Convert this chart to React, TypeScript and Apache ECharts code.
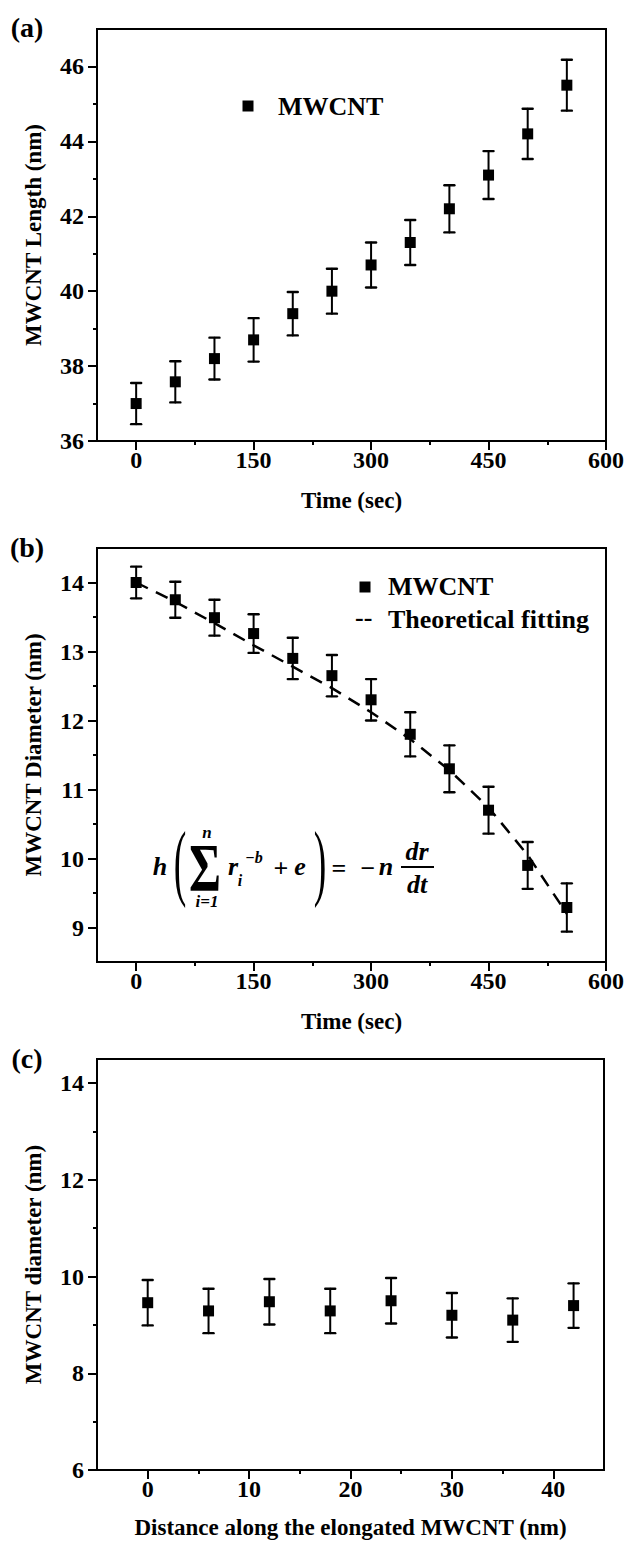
import React, { useEffect, useRef } from "react";
import * as echarts from "echarts";

// ---------- data ----------
const timeSec = [0, 50, 100, 150, 200, 250, 300, 350, 400, 450, 500, 550];
const lengthNm = [37.0, 37.58, 38.2, 38.7, 39.4, 40.0, 40.7, 41.3, 42.2, 43.1, 44.2, 45.5];
const lengthErr = [0.55, 0.55, 0.56, 0.58, 0.58, 0.6, 0.6, 0.6, 0.63, 0.64, 0.67, 0.68];

const diameterNm = [14.0, 13.75, 13.49, 13.26, 12.9, 12.65, 12.3, 11.8, 11.3, 10.7, 9.9, 9.29];
const diameterErr = [0.23, 0.26, 0.26, 0.28, 0.3, 0.3, 0.3, 0.32, 0.34, 0.34, 0.34, 0.35];
const fitNm = [14.0, 13.72, 13.41, 13.09, 12.78, 12.47, 12.12, 11.73, 11.28, 10.74, 10.05, 9.2];

const distanceNm = [0, 6, 12, 18, 24, 30, 36, 42];
const diameterAlong = [9.46, 9.29, 9.48, 9.29, 9.5, 9.2, 9.1, 9.4];
const diameterAlongErr = [0.47, 0.46, 0.47, 0.46, 0.47, 0.46, 0.45, 0.46];

const timeTicks = [0, 150, 300, 450, 600];
const timeMinor = [75, 225, 375, 525];
const lengthTicks = [36, 38, 40, 42, 44, 46];
const lengthMinor = [37, 39, 41, 43, 45];
const diamTicks = [9, 10, 11, 12, 13, 14];
const diamMinor = [9.5, 10.5, 11.5, 12.5, 13.5];
const distTicks = [0, 10, 20, 30, 40];
const distMinor = [5, 15, 25, 35];
const alongTicks = [6, 8, 10, 12, 14];
const alongMinor = [7, 9, 11, 13];

// ---------- styles ----------
const SERIF = '"Liberation Serif", "Times New Roman", serif';
const BLACK = "#000";

const grids = [
  { left: 97, top: 29, width: 509, height: 412 },
  { left: 97, top: 548, width: 509, height: 414 },
  { left: 97, top: 1059, width: 507, height: 411 },
];

function majorAxis(dim: "x" | "y", gridIndex: number, min: number, max: number, ticks: number[], name: string, nameGap: number) {
  return {
    type: "value",
    gridIndex,
    min,
    max,
    position: dim === "x" ? "bottom" : "left",
    axisLine: { show: true, onZero: false, lineStyle: { color: BLACK, width: 2 } },
    axisTick: { show: true, inside: false, length: 9, lineStyle: { color: BLACK, width: 2 }, customValues: ticks },
    axisLabel: {
      show: true,
      customValues: ticks,
      margin: dim === "x" ? 7 : 13,
      color: BLACK,
      fontFamily: SERIF,
      fontWeight: "bold",
      fontSize: 24,
    },
    splitLine: { show: false },
    name,
    nameLocation: "middle",
    nameGap,
    nameTextStyle: { color: BLACK, fontFamily: SERIF, fontWeight: "bold", fontSize: 23 },
  };
}

function minorAxis(dim: "x" | "y", gridIndex: number, min: number, max: number, ticks: number[]) {
  return {
    type: "value",
    gridIndex,
    min,
    max,
    position: dim === "x" ? "bottom" : "left",
    axisLine: { show: false, onZero: false },
    axisTick: { show: true, inside: false, length: 4, lineStyle: { color: BLACK, width: 2 }, customValues: ticks },
    axisLabel: { show: false },
    splitLine: { show: false },
  };
}

function errorBars(axisIndex: number, xs: number[], ys: number[], es: number[]) {
  return {
    type: "custom",
    xAxisIndex: axisIndex,
    yAxisIndex: axisIndex,
    clip: false,
    z: 3,
    encode: { x: 0, y: 1 },
    data: xs.map((x, i) => [x, ys[i], es[i]]),
    renderItem: (params: any, api: any) => {
      const x = api.value(0);
      const y = api.value(1);
      const e = api.value(2);
      const hi = api.coord([x, y + e]);
      const lo = api.coord([x, y - e]);
      const w = 5;
      const st = { stroke: BLACK, lineWidth: 2, lineCap: "round" };
      return {
        type: "group",
        children: [
          { type: "line", shape: { x1: hi[0], y1: hi[1], x2: lo[0], y2: lo[1] }, style: st },
          { type: "line", shape: { x1: hi[0] - w, y1: hi[1], x2: hi[0] + w, y2: hi[1] }, style: { ...st, lineWidth: 2.4 } },
          { type: "line", shape: { x1: lo[0] - w, y1: lo[1], x2: lo[0] + w, y2: lo[1] }, style: { ...st, lineWidth: 2.4 } },
        ],
      };
    },
  };
}

function points(axisIndex: number, name: string, xs: number[], ys: number[]) {
  return {
    type: "scatter",
    name,
    xAxisIndex: axisIndex,
    yAxisIndex: axisIndex,
    symbol: "rect",
    symbolSize: 11,
    z: 5,
    itemStyle: { color: BLACK, opacity: 1 },
    data: xs.map((x, i) => [x, ys[i]]),
  };
}

function txt(x: number, y: number, text: string, font: string, extra: any = {}) {
  const { scaleX, scaleY, align, ...rest } = extra;
  return {
    type: "text",
    x,
    y,
    scaleX: scaleX ?? 1,
    scaleY: scaleY ?? 1,
    z: 100,
    style: {
      text,
      font,
      fill: BLACK,
      textAlign: align ?? "center",
      textVerticalAlign: "middle",
      ...rest,
    },
  };
}

const B = (s: number) => `bold ${s}px ${SERIF}`;
const BI = (s: number) => `italic bold ${s}px ${SERIF}`;

export default function App() {
  const ref = useRef<HTMLDivElement>(null);
  useEffect(() => {
    if (!ref.current) return;
    const chart = echarts.init(ref.current, undefined, { renderer: "svg" });
    const option: any = {
      animation: false,
      backgroundColor: "#fff",
      grid: grids.map((g) => ({ ...g, show: true, borderColor: BLACK, borderWidth: 2, backgroundColor: "transparent", containLabel: false })),
      xAxis: [
        majorAxis("x", 0, -50, 600, timeTicks, "Time (sec)", 48),
        minorAxis("x", 0, -50, 600, timeMinor),
        majorAxis("x", 1, -50, 600, timeTicks, "Time (sec)", 48),
        minorAxis("x", 1, -50, 600, timeMinor),
        majorAxis("x", 2, -5, 45, distTicks, "Distance along the elongated MWCNT (nm)", 46),
        minorAxis("x", 2, -5, 45, distMinor),
      ],
      yAxis: [
        majorAxis("y", 0, 36, 47, lengthTicks, "MWCNT Length (nm)", 52),
        minorAxis("y", 0, 36, 47, lengthMinor),
        majorAxis("y", 1, 8.5, 14.5, diamTicks, "MWCNT Diameter (nm)", 52),
        minorAxis("y", 1, 8.5, 14.5, diamMinor),
        majorAxis("y", 2, 6, 14.5, alongTicks, "MWCNT diameter (nm)", 52),
        minorAxis("y", 2, 6, 14.5, alongMinor),
      ],
      series: [
        errorBars(0, timeSec, lengthNm, lengthErr),
        points(0, "MWCNT", timeSec, lengthNm),
        {
          type: "line",
          name: "Theoretical fitting",
          xAxisIndex: 2,
          yAxisIndex: 2,
          symbol: "none",
          z: 2,
          lineStyle: { color: BLACK, width: 2.5, type: [13, 9] },
          data: timeSec.map((t, i) => [t, fitNm[i]]),
        },
        errorBars(2, timeSec, diameterNm, diameterErr),
        points(2, "MWCNT", timeSec, diameterNm),
        errorBars(4, distanceNm, diameterAlong, diameterAlongErr),
        points(4, "MWCNT", distanceNm, diameterAlong),
      ],
      graphic: [
        // panel labels
        txt(27, 27, "(a)", B(28)),
        txt(27, 547, "(b)", B(28)),
        txt(27, 1058, "(c)", B(28)),
        // legend (a)
        { type: "rect", shape: { x: 242.5, y: 100.5, width: 11, height: 11 }, style: { fill: BLACK }, z: 100 },
        txt(278, 106, "MWCNT", B(26), { align: "left" }),
        // legend (b)
        { type: "rect", shape: { x: 359.5, y: 581.5, width: 11, height: 11 }, style: { fill: BLACK }, z: 100 },
        txt(388, 586, "MWCNT", B(26), { align: "left" }),
        txt(355, 617, "--", B(26), { align: "left" }),
        txt(388, 619, "Theoretical fitting", B(26), { align: "left" }),
        // equation
        txt(160, 866, "h", BI(26)),
        txt(180, 862, "(", `84px ${SERIF}`, { scaleX: 0.45 }),
        txt(205, 867, "Σ", B(68), { scaleX: 0.72 }),
        txt(207, 832, "n", BI(17)),
        txt(207, 901, "i=1", BI(17)),
        txt(233, 866, "r", BI(26)),
        txt(240, 880, "i", BI(16)),
        txt(254, 857, "−b", BI(16)),
        txt(281, 868, "+", B(26)),
        txt(300, 866, "e", BI(26)),
        txt(320, 862, ")", `84px ${SERIF}`, { scaleX: 0.45 }),
        txt(339, 868, "=", B(26)),
        txt(368, 868, "−", B(26)),
        txt(386, 866, "n", BI(26)),
        txt(417, 851, "dr", BI(26)),
        { type: "line", shape: { x1: 401, y1: 867, x2: 434, y2: 867 }, style: { stroke: BLACK, lineWidth: 2 }, z: 100 },
        txt(417, 884, "dt", BI(26)),
      ],
    };
    chart.setOption(option);
    return () => chart.dispose();
  }, []);
  return <div ref={ref} style={{ position: "absolute", left: 0, top: 0, width: 628, height: 1541 }} />;
}
